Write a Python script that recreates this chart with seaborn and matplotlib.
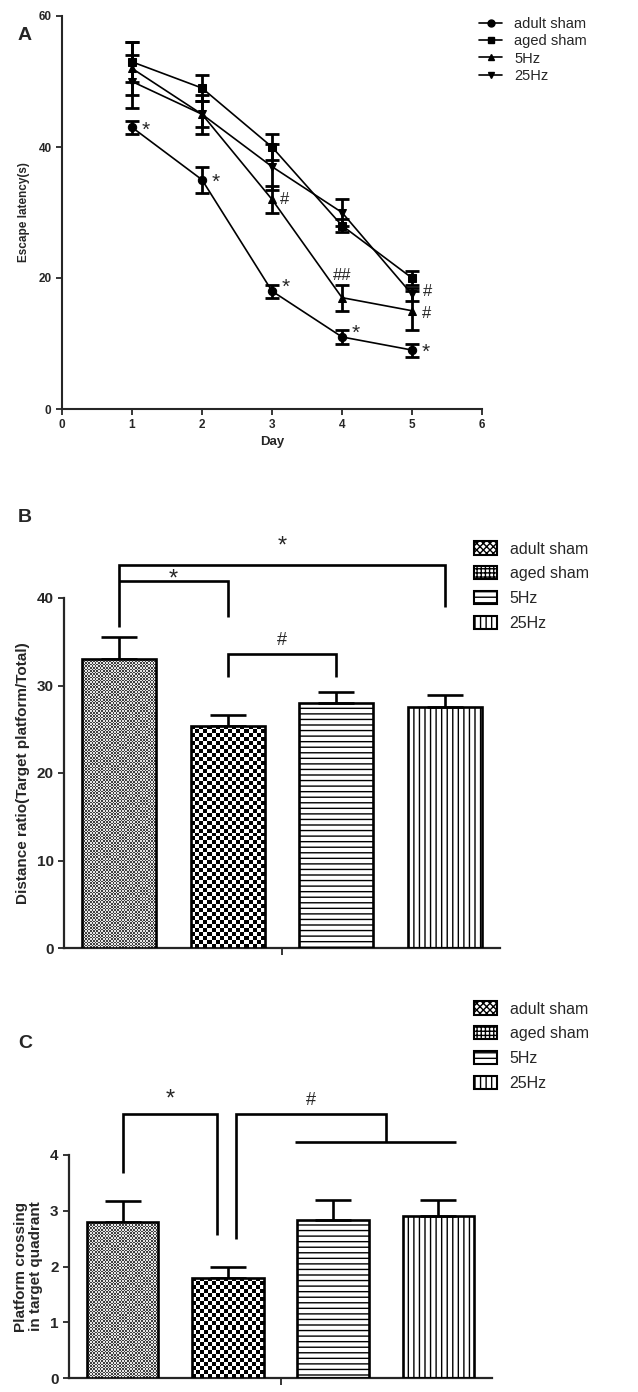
import numpy as np
import pandas as pd
import matplotlib
matplotlib.use('Agg')
import matplotlib.pyplot as plt
import seaborn as sns
from matplotlib.lines import Line2D
from matplotlib.patches import Patch

# ---- data ----
days = [1, 2, 3, 4, 5]
adult_mean = [43, 35, 18, 11, 9]
adult_sem = [1, 2, 1, 1, 1]
aged_mean = [53, 49, 40, 28, 20]
aged_sem = [3, 2, 2, 1, 1]
hz5_mean = [52, 45, 32, 17, 15]
hz5_sem = [4, 3, 2, 2, 3]
hz25_mean = [50, 45, 37, 30, 17.5]
hz25_sem = [4, 2, 3.5, 2, 1]

groups = ['adult sham', 'aged sham', '5Hz', '25Hz']
ratio_mean = [33.0, 25.4, 28.0, 27.5]
ratio_sem = [2.6, 1.2, 1.3, 1.4]
cross_mean = [2.8, 1.8, 2.83, 2.9]
cross_sem = [0.37, 0.19, 0.37, 0.29]

sns.set_style('ticks')
plt.rcParams['font.family'] = ['Liberation Sans', 'DejaVu Sans']

W, H = 638, 1392
fig = plt.figure(figsize=(W / 100, H / 100), dpi=100)


def px_axes(left, top, right, bottom):
    return fig.add_axes([left / W, 1 - bottom / H, (right - left) / W, (bottom - top) / H])


# ---------------- panel A ----------------
ax = px_axes(62, 16, 482, 409)
markers = {'adult sham': 'o', 'aged sham': 's', '5Hz': '^', '25Hz': 'v'}
series = {'adult sham': (adult_mean, adult_sem), 'aged sham': (aged_mean, aged_sem),
          '5Hz': (hz5_mean, hz5_sem), '25Hz': (hz25_mean, hz25_sem)}
rows = []
for g, (m, s) in series.items():
    for d, v in zip(days, m):
        rows.append({'Day': d, 'latency': v, 'group': g})
df_a = pd.DataFrame(rows)
sns.lineplot(data=df_a, x='Day', y='latency', style='group', markers=markers, dashes=False,
             color='black', linewidth=1.2, markersize=6, markeredgecolor='black',
             errorbar=None, legend=False, ax=ax)
for g, (m, s) in series.items():
    ax.errorbar(days, m, yerr=s, fmt='none', ecolor='black', elinewidth=2,
                capsize=5, capthick=2)

ax.set_xlim(0, 6)
ax.set_ylim(0, 60)
ax.set_xticks(range(7))
ax.set_yticks([0, 20, 40, 60])
ax.set_xlabel('Day', fontsize=9.5, fontweight='bold', labelpad=3)
ax.set_ylabel('Escape latency(s)', fontsize=8.5, fontweight='bold', labelpad=6)
ax.tick_params(labelsize=8.5, width=1.3, length=4)
for lab in ax.get_xticklabels() + ax.get_yticklabels():
    lab.set_fontweight('bold')
for sp in ['left', 'bottom']:
    ax.spines[sp].set_linewidth(1.5)
sns.despine(ax=ax)

# significance marks
ann = [(1.14, 42.6, '*'), (2.14, 34.6, '*'), (3.14, 18.6, '*'), (4.14, 11.6, '*'), (5.14, 8.6, '*'),
       (3.12, 32, '#'), (5.16, 17.9, '#'), (5.14, 14.6, '#')]
for x, y, t in ann:
    ax.text(x, y, t, fontsize=15 if t == '*' else 12, ha='left', va='center')
ax.text(4.0, 19.3, '##', fontsize=12, ha='center', va='bottom')

handles = [Line2D([], [], color='black', lw=1.2, marker=markers[g], markersize=5) for g in groups]
ax.legend(handles, groups, loc='upper left', bbox_to_anchor=(466 / W, 1 - 4 / H),
          bbox_transform=fig.transFigure, frameon=False, fontsize=10.5,
          handlelength=1.6, labelspacing=0.22, handletextpad=0.8)

fig.text(18 / W, 1 - 35 / H, 'A', fontsize=14, fontweight='bold', va='center')


# ---------------- bar panels ----------------
def checker_fill(ax, patch, cell_px, dark, light):
    x0, y0 = patch.get_x(), patch.get_y()
    x1, y1 = x0 + patch.get_width(), y0 + patch.get_height()
    p0 = ax.transData.transform((x0, y0))
    p1 = ax.transData.transform((x1, y1))
    nx = max(1, int(round(abs(p1[0] - p0[0]) / cell_px)))
    ny = max(1, int(round(abs(p1[1] - p0[1]) / cell_px)))
    ii, jj = np.indices((ny, nx))
    arr = np.where((ii + jj) % 2 == 0, dark, light)
    im = ax.imshow(arr, cmap='gray', vmin=0, vmax=1, extent=[x0, x1, y0, y1],
                   aspect='auto', interpolation='nearest', zorder=patch.get_zorder() - 0.1)
    im.set_clip_path(patch)


def bar_panel(ax, means, sems, ymax, yticks):
    df = pd.DataFrame({'group': groups, 'value': means})
    sns.barplot(data=df, x='group', y='value', color='white', edgecolor='black',
                linewidth=1.9, width=0.68, errorbar=None, ax=ax)
    ax.set_xlim(-0.51, 3.51)
    ax.set_ylim(0, ymax)
    bars = ax.patches[:4]
    for b in bars:
        b.set_facecolor('none')
        b.set_zorder(3)
    bars[2].set_hatch('---')
    bars[3].set_hatch('|||')
    checker_fill(ax, bars[0], 1.6, 0.25, 0.9)
    checker_fill(ax, bars[1], 4.0, 0.0, 1.0)
    ax.errorbar(range(4), means, yerr=[[0] * 4, sems], fmt='none', ecolor='black',
                elinewidth=1.9, capsize=13, capthick=1.9, zorder=2)
    ax.set_xlim(-0.51, 3.51)
    ax.set_ylim(0, ymax)
    ax.set_xticks([1.5])
    ax.set_xticklabels([''])
    ax.set_xlabel('')
    ax.set_yticks(yticks)
    ax.tick_params(axis='y', labelsize=11, width=1.3, length=4)
    ax.tick_params(axis='x', width=1.3, length=5)
    for lab in ax.get_yticklabels():
        lab.set_fontweight('bold')
    for sp in ['left', 'bottom']:
        ax.spines[sp].set_linewidth(1.6)
    sns.despine(ax=ax)


def bar_legend(ax, top_px):
    h = [Patch(facecolor='white', edgecolor='black', hatch='xxxxx', lw=1.5),
         Patch(facecolor='white', edgecolor='black', hatch='++++', lw=1.5),
         Patch(facecolor='white', edgecolor='black', hatch='---', lw=1.5),
         Patch(facecolor='white', edgecolor='black', hatch='|||', lw=1.5)]
    ax.legend(h, groups, loc='upper left', bbox_to_anchor=(460 / W, 1 - top_px / H),
              bbox_transform=fig.transFigure, frameon=False, fontsize=11.5,
              handlelength=1.4, handleheight=0.9, labelspacing=0.6, handletextpad=0.8)


def bracket(ax, pts):
    xs, ys = zip(*pts)
    ax.plot(xs, ys, color='black', lw=1.9, clip_on=False, solid_capstyle='butt',
            solid_joinstyle='miter')


# panel B
axb = px_axes(64, 598, 500, 948)
bar_panel(axb, ratio_mean, ratio_sem, 40, [0, 10, 20, 30, 40])
axb.set_ylabel('Distance ratio(Target platform/Total)', fontsize=11, fontweight='bold', labelpad=5)
bracket(axb, [(0, 36.7), (0, 43.8), (3, 43.8), (3, 39.0)])
bracket(axb, [(0, 42.0), (1, 42.0), (1, 37.8)])
bracket(axb, [(1, 31.0), (1, 33.6), (2, 33.6), (2, 31.0)])
axb.text(1.5, 44.6, '*', fontsize=17, ha='center', va='bottom', clip_on=False)
axb.text(0.5, 40.9, '*', fontsize=17, ha='center', va='bottom', clip_on=False)
axb.text(1.5, 34.2, '#', fontsize=13, ha='center', va='bottom', clip_on=False)
bar_legend(axb, 527)
fig.text(18 / W, 1 - 518 / H, 'B', fontsize=14, fontweight='bold', va='center')

# panel C
axc = px_axes(69, 1155, 492, 1378)
bar_panel(axc, cross_mean, cross_sem, 4, [0, 1, 2, 3, 4])
axc.set_ylabel('Platform crossing\nin target quadrant', fontsize=11, fontweight='bold',
               labelpad=5, linespacing=1.1)
bracket(axc, [(0, 3.68), (0, 4.74), (0.9, 4.74), (0.9, 2.57)])
bracket(axc, [(1.08, 2.49), (1.08, 4.74), (2.5, 4.74), (2.5, 4.24)])
bracket(axc, [(1.64, 4.24), (3.17, 4.24)])
axc.text(0.45, 4.8, '*', fontsize=17, ha='center', va='bottom', clip_on=False)
axc.text(1.79, 4.82, '#', fontsize=13, ha='center', va='bottom', clip_on=False)
bar_legend(axc, 987)
fig.text(18 / W, 1 - 1043 / H, 'C', fontsize=14, fontweight='bold', va='center')

fig.savefig('out.png', dpi=100)
